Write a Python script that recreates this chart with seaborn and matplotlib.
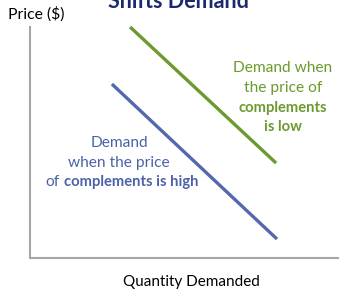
import matplotlib
matplotlib.use("Agg")
import matplotlib.pyplot as plt
import seaborn as sns
import pandas as pd

# Data
low_x = [3.25, 7.99]
low_y = [10.0, 4.11]
high_x = [2.66, 8.02]
high_y = [7.53, 0.82]
series_names = ["Demand when the price of complements is low",
                "Demand when the price of complements is high"]

GREEN = "#6b9a2e"
BLUE = "#5468ad"
BLUE_TXT = "#4a62a8"
NAVY = "#1b2a6e"
SPINE = "#a6a6a6"
FONT = "Lato"

sns.set_theme(style="white")
plt.rcParams['font.family'] = [FONT, 'DejaVu Sans']

df = pd.DataFrame({
    "q": low_x + high_x,
    "p": low_y + high_y,
    "s": [series_names[0]] * len(low_x) + [series_names[1]] * len(high_x),
})

W, H = 349, 300
fig = plt.figure(figsize=(W / 100, H / 100), dpi=100)
ax = fig.add_axes([30 / W, 1 - 258 / H, (338 - 30) / W, (258 - 27) / H])

sns.lineplot(data=df, x="q", y="p", hue="s", palette=[GREEN, BLUE],
             linewidth=2.4, legend=False, ax=ax, clip_on=False,
             solid_capstyle="butt")
ax.set_xlim(0, 10)
ax.set_ylim(0, 10)
ax.set_xticks([])
ax.set_yticks([])
ax.set_xlabel("")
ax.set_ylabel("")
for s in ["top", "right"]:
    ax.spines[s].set_visible(False)
for s in ["left", "bottom"]:
    ax.spines[s].set_color(SPINE)
    ax.spines[s].set_linewidth(1.5)


def ptext(x, y, s, **kw):
    fig.text(x / W, 1 - y / H, s, **kw)


# Title (cut at top, as in the reference)
ptext(178, 8, "Shifts Demand", ha="center", va="baseline", fontsize=15.5,
      fontweight="bold", color=NAVY)

# Axis labels
ptext(8, 19, "Price ($)", ha="left", va="baseline", fontsize=11.3, color="black")
ptext(191, 286, "Quantity Demanded", ha="center", va="baseline", fontsize=11,
      color="black")

# Blue annotation
fs = 11.2
fb = 10.6
ptext(119, 147, "Demand", ha="center", va="baseline", fontsize=fs, color=BLUE_TXT)
ptext(119, 167, "when the price", ha="center", va="baseline", fontsize=fs, color=BLUE_TXT)
ptext(60, 186, "of", ha="right", va="baseline", fontsize=fs, color=BLUE_TXT)
ptext(64, 186, "complements is high", ha="left", va="baseline", fontsize=fb,
      fontweight="bold", color=BLUE_TXT)

# Green annotation
ptext(283, 72, "Demand when", ha="center", va="baseline", fontsize=fs, color=GREEN)
ptext(283, 92, "the price of", ha="center", va="baseline", fontsize=fs, color=GREEN)
ptext(283, 112, "complements", ha="center", va="baseline", fontsize=fb,
      fontweight="bold", color=GREEN)
ptext(283, 131, "is low", ha="center", va="baseline", fontsize=fb,
      fontweight="bold", color=GREEN)

fig.savefig("out.png", dpi=100)
